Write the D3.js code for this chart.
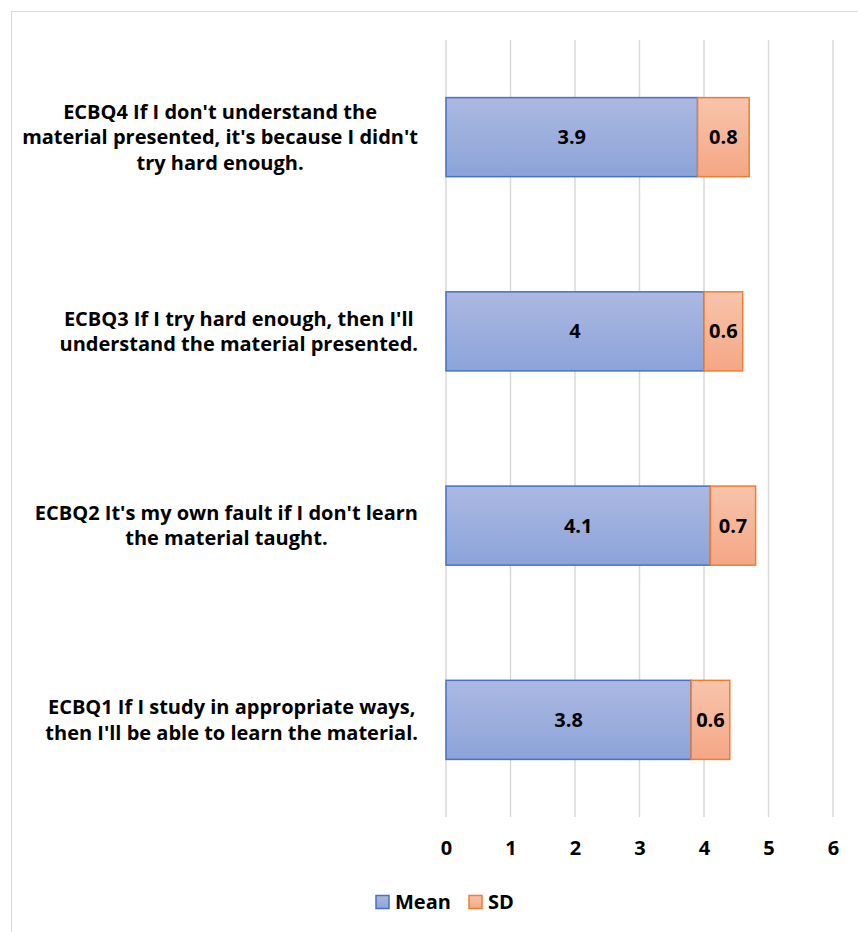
<!DOCTYPE html>
<html>
<head>
<meta charset="utf-8">
<script src="https://cdn.jsdelivr.net/npm/d3@7"></script>
<style>
  html, body { margin: 0; padding: 0; background: #fff; }
  svg { display: block; }
  text { font-family: "Open Sans", Lato, sans-serif; font-weight: bold; fill: #000; }
</style>
</head>
<body>
<svg id="chart" width="858" height="932"></svg>
<script>
// Survey items, top to bottom, with their wrapped label lines
const items = ["ECBQ4", "ECBQ3", "ECBQ2", "ECBQ1"];
const itemLines = [
  ["ECBQ4 If I don't understand the", "material presented, it's because I didn't", "try hard enough."],
  ["ECBQ3 If I try hard enough, then I'll", "understand the material presented."],
  ["ECBQ2 It's my own fault if I don't learn", "the material taught."],
  ["ECBQ1 If I study in appropriate ways,", "then I'll be able to learn the material."]
];
const meanValues = [3.9, 4, 4.1, 3.8];
const sdValues = [0.8, 0.6, 0.7, 0.6];
const seriesNames = ["Mean", "SD"];
const xTicks = [0, 1, 2, 3, 4, 5, 6];

const svg = d3.select("#chart");
const W = 858, H = 932;
const plot = { left: 446, right: 833, top: 40, bottom: 817 };
const labelRight = 418;
const fontSize = 20;
const lineGap = 25.5;
const fontFamily = "'Open Sans', Lato, sans-serif";

// Chart frame
svg.append("rect")
  .attr("x", 11.5).attr("y", 11.5)
  .attr("width", W + 20).attr("height", H + 20)
  .attr("fill", "#fff").attr("stroke", "#d9d9d9").attr("stroke-width", 1);

// Gradients for the two series
const defs = svg.append("defs");
const grads = [
  { id: "gMean", top: "#abb9e1", bottom: "#8ca3d9" },
  { id: "gSD", top: "#f8c4ab", bottom: "#f4a785" }
];
grads.forEach(g => {
  const lg = defs.append("linearGradient").attr("id", g.id)
    .attr("x1", 0).attr("y1", 0).attr("x2", 0).attr("y2", 1);
  lg.append("stop").attr("offset", "0%").attr("stop-color", g.top);
  lg.append("stop").attr("offset", "100%").attr("stop-color", g.bottom);
});
const fills = ["url(#gMean)", "url(#gSD)"];
const strokes = ["#4472c4", "#ed7d31"];

const x = d3.scaleLinear().domain([0, 6]).range([plot.left, plot.right]);
const y = d3.scaleBand().domain(items).range([plot.top, plot.bottom])
  .paddingInner(0.593).paddingOuter(0.2965);

// Vertical gridlines
svg.append("g").selectAll("line").data(xTicks).join("line")
  .attr("x1", d => x(d)).attr("x2", d => x(d))
  .attr("y1", plot.top).attr("y2", plot.bottom)
  .attr("stroke", "#d9d9d9").attr("stroke-width", 1.5);

// X axis tick labels
const xAxis = d3.axisBottom(x).tickValues(xTicks).tickSize(0).tickPadding(0)
  .tickFormat(d3.format("d"));
const gx = svg.append("g").attr("transform", `translate(0,${plot.bottom + 31})`).call(xAxis);
gx.select(".domain").remove();
gx.selectAll("text")
  .attr("font-size", fontSize).attr("font-family", fontFamily)
  .attr("font-weight", "bold").attr("fill", "#000").attr("dy", "0.35em").attr("y", 0);

// Stacked data
const rows = items.map((k, i) => ({ key: k, Mean: meanValues[i], SD: sdValues[i] }));
const stack = d3.stack().keys(seriesNames)(rows);

const layers = svg.append("g").selectAll("g").data(stack).join("g")
  .attr("fill", (d, i) => fills[i]).attr("stroke", (d, i) => strokes[i]);

layers.selectAll("rect").data(d => d).join("rect")
  .attr("x", d => x(d[0]))
  .attr("y", d => y(d.data.key))
  .attr("width", d => x(d[1]) - x(d[0]))
  .attr("height", y.bandwidth())
  .attr("stroke-width", 1.5);

// Value labels inside segments
stack.forEach((layer, li) => {
  svg.append("g").selectAll("text").data(layer).join("text")
    .attr("x", d => (x(d[0]) + x(d[1])) / 2)
    .attr("y", d => y(d.data.key) + y.bandwidth() / 2)
    .attr("dy", "0.35em")
    .attr("text-anchor", "middle")
    .attr("font-size", fontSize)
    .text(d => d.data[seriesNames[li]]);
});

// Category labels: block right-aligned, lines centred within the block
items.forEach((k, i) => {
  const lines = itemLines[i];
  const g = svg.append("g");
  const texts = g.selectAll("text").data(lines).join("text")
    .attr("font-size", fontSize)
    .attr("text-anchor", "middle")
    .attr("dy", "0.35em")
    .attr("y", (d, j) => y(k) + y.bandwidth() / 2 + (j - (lines.length - 1) / 2) * lineGap)
    .text(d => d);
  let wMax = 0;
  texts.each(function () { wMax = Math.max(wMax, this.getComputedTextLength()); });
  texts.attr("x", labelRight - wMax / 2);
});

// Legend
const legend = svg.append("g").attr("transform", "translate(0,902)");
const legendX = [376, 469];
seriesNames.forEach((name, i) => {
  legend.append("rect")
    .attr("x", legendX[i]).attr("y", -6.5).attr("width", 13).attr("height", 13)
    .attr("fill", fills[i]).attr("stroke", strokes[i]).attr("stroke-width", 1.5);
  legend.append("text")
    .attr("x", legendX[i] + 19).attr("y", 0).attr("dy", "0.35em")
    .attr("font-size", fontSize).text(name);
});
</script>
</body>
</html>
